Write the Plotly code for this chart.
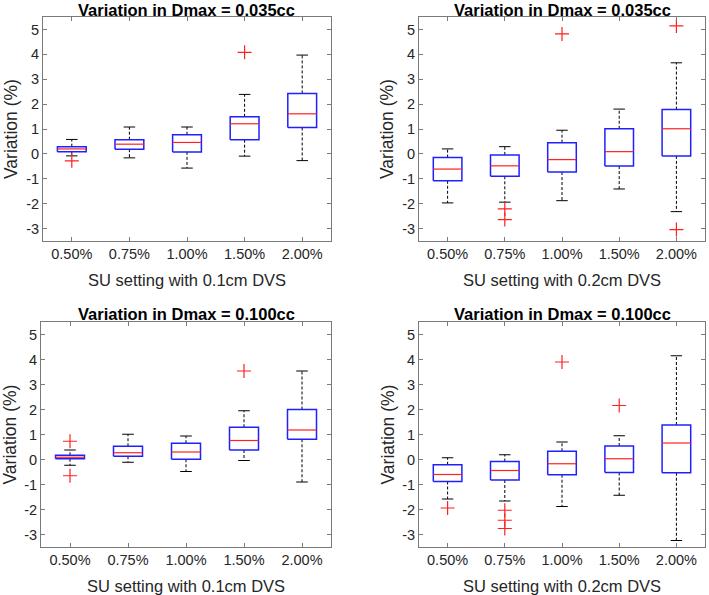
import plotly.graph_objects as go

categories = ["0.50%", "0.75%", "1.00%", "1.50%", "2.00%"]

titles = ["Variation in Dmax = 0.035cc", "Variation in Dmax = 0.035cc",
          "Variation in Dmax = 0.100cc", "Variation in Dmax = 0.100cc"]
xtitles = ["SU setting with 0.1cm DVS", "SU setting with 0.2cm DVS",
           "SU setting with 0.1cm DVS", "SU setting with 0.2cm DVS"]

# Panel 1: Dmax 0.035cc, 0.1cm DVS
p1_q1 = [0.09, 0.19, 0.08, 0.57, 1.06]
p1_med = [0.20, 0.39, 0.46, 1.21, 1.61]
p1_q3 = [0.29, 0.57, 0.77, 1.49, 2.43]
p1_lo = [-0.08, -0.16, -0.57, -0.09, -0.27]
p1_hi = [0.58, 1.08, 1.08, 2.39, 3.97]
p1_out = [[-0.28], [], [], [4.08], []]

# Panel 2: Dmax 0.035cc, 0.2cm DVS
p2_q1 = [-1.08, -0.90, -0.73, -0.49, -0.08]
p2_med = [-0.61, -0.48, -0.23, 0.09, 1.01]
p2_q3 = [-0.15, -0.04, 0.45, 1.01, 1.78]
p2_lo = [-1.97, -1.94, -1.88, -1.41, -2.32]
p2_hi = [0.20, 0.29, 0.95, 1.80, 3.66]
p2_out = [[], [-2.21, -2.64], [4.82], [], [5.14, -3.04]]

# Panel 3: Dmax 0.100cc, 0.1cm DVS
p3_q1 = [0.03, 0.13, 0.01, 0.38, 0.81]
p3_med = [0.09, 0.27, 0.30, 0.76, 1.18]
p3_q3 = [0.17, 0.53, 0.65, 1.29, 2.00]
p3_lo = [-0.23, -0.11, -0.48, -0.04, -0.90]
p3_hi = [0.38, 1.01, 0.94, 1.95, 3.54]
p3_out = [[0.73, -0.65], [], [], [3.54], []]

# Panel 4: Dmax 0.100cc, 0.2cm DVS
p4_q1 = [-0.88, -0.82, -0.61, -0.52, -0.53]
p4_med = [-0.60, -0.44, -0.17, 0.03, 0.66]
p4_q3 = [-0.21, -0.08, 0.33, 0.54, 1.38]
p4_lo = [-1.58, -1.66, -1.88, -1.43, -3.24]
p4_hi = [0.07, 0.19, 0.70, 0.95, 4.15]
p4_out = [[-1.94], [-2.03, -2.43, -2.76], [3.90], [2.16], []]

panels = [
    (p1_q1, p1_med, p1_q3, p1_lo, p1_hi, p1_out),
    (p2_q1, p2_med, p2_q3, p2_lo, p2_hi, p2_out),
    (p3_q1, p3_med, p3_q3, p3_lo, p3_hi, p3_out),
    (p4_q1, p4_med, p4_q3, p4_lo, p4_hi, p4_out),
]

W, H = 709, 595
# pixel boxes (left, right, top, bottom)
boxes_px = [(43, 331, 17, 241), (419, 705, 17, 241),
            (41, 331, 322, 547), (419, 705, 322, 547)]

BOX_HALF = 0.25
CAP_HALF = 0.1
AXIS_COL = "#7a7a7a"
TXT_COL = "#262626"
FONT = "Liberation Sans, Arial, sans-serif"

fig = go.Figure()
annotations = []

for i, (q1, med, q3, lo, hi, outs) in enumerate(panels):
    xa = "x" if i == 0 else f"x{i+1}"
    ya = "y" if i == 0 else f"y{i+1}"
    pos = list(range(1, len(categories) + 1))

    wx, wy, cx, cy, bx, by, mx, my, ox, oy = [], [], [], [], [], [], [], [], [], []
    for c, a, m, b, l, h, o in zip(pos, q1, med, q3, lo, hi, outs):
        wx += [c, c, None, c, c, None]
        wy += [b, h, None, a, l, None]
        cx += [c - CAP_HALF, c + CAP_HALF, None, c - CAP_HALF, c + CAP_HALF, None]
        cy += [h, h, None, l, l, None]
        bx += [c - BOX_HALF, c + BOX_HALF, c + BOX_HALF, c - BOX_HALF, c - BOX_HALF, None]
        by += [a, a, b, b, a, None]
        mx += [c - BOX_HALF, c + BOX_HALF, None]
        my += [m, m, None]
        for v in o:
            ox.append(c)
            oy.append(v)

    common = dict(xaxis=xa, yaxis=ya, showlegend=False, hoverinfo="skip")
    fig.add_trace(go.Scatter(x=wx, y=wy, mode="lines",
                             line=dict(color="black", width=1, dash="3px,2px"), **common))
    fig.add_trace(go.Scatter(x=cx, y=cy, mode="lines",
                             line=dict(color="black", width=1), **common))
    fig.add_trace(go.Scatter(x=bx, y=by, mode="lines",
                             line=dict(color="#2020ff", width=1.5), **common))
    fig.add_trace(go.Scatter(x=mx, y=my, mode="lines",
                             line=dict(color="#ff2020", width=1.2), **common))
    fig.add_trace(go.Scatter(x=ox, y=oy, mode="markers",
                             marker=dict(symbol="cross-thin", size=10,
                                         line=dict(color="#ff2020", width=1.2)),
                             **common))

    L, R, T, B = boxes_px[i]
    xd = [L / W, R / W]
    yd = [1 - B / H, 1 - T / H]
    axkey = "xaxis" if i == 0 else f"xaxis{i+1}"
    aykey = "yaxis" if i == 0 else f"yaxis{i+1}"
    fig.layout[axkey] = dict(
        domain=xd, anchor=ya, range=[0.5, 5.5],
        tickmode="array", tickvals=pos, ticktext=categories,
        ticks="inside", ticklen=4, tickcolor=AXIS_COL, mirror="ticks",
        showline=True, linecolor=AXIS_COL, linewidth=1, showgrid=False,
        zeroline=False, tickfont=dict(size=14.5, color=TXT_COL, family=FONT),
    )
    fig.layout[aykey] = dict(
        domain=yd, anchor=xa, range=[-3.5, 5.5],
        tickmode="array", tickvals=[-3, -2, -1, 0, 1, 2, 3, 4, 5],
        ticktext=["-3", "-2", "-1", "0", "1", "2", "3", "4", "5"],
        ticks="inside", ticklen=4, tickcolor=AXIS_COL, mirror="ticks",
        showline=True, linecolor=AXIS_COL, linewidth=1, showgrid=False,
        zeroline=False, tickfont=dict(size=14.5, color=TXT_COL, family=FONT),
    )

    cxp = (L + R) / 2 / W
    title_top = max(T - 18, 0)
    annotations.append(dict(text=f"<b>{titles[i]}</b>", x=cxp, y=1 - title_top / H,
                            xref="paper", yref="paper", xanchor="center", yanchor="top",
                            borderpad=0,
                            showarrow=False, font=dict(size=16.5, color="black", family=FONT)))
    annotations.append(dict(text=xtitles[i], x=cxp, y=1 - (B + 39) / H,
                            xref="paper", yref="paper", xanchor="center", yanchor="middle",
                            showarrow=False, font=dict(size=16.5, color=TXT_COL, family=FONT)))
    annotations.append(dict(text="Variation (%)", x=(L - 32) / W, y=1 - (T + B) / 2 / H,
                            xref="paper", yref="paper", xanchor="center", yanchor="middle",
                            textangle=-90, showarrow=False,
                            font=dict(size=17.5, color=TXT_COL, family=FONT)))

fig.update_layout(
    width=W, height=H, margin=dict(l=0, r=0, t=0, b=0),
    paper_bgcolor="white", plot_bgcolor="white",
    annotations=annotations,
)

fig.write_html("out.html", config={"displayModeBar": False},
               post_script="document.body.style.margin='0';document.body.style.overflow='hidden';")
